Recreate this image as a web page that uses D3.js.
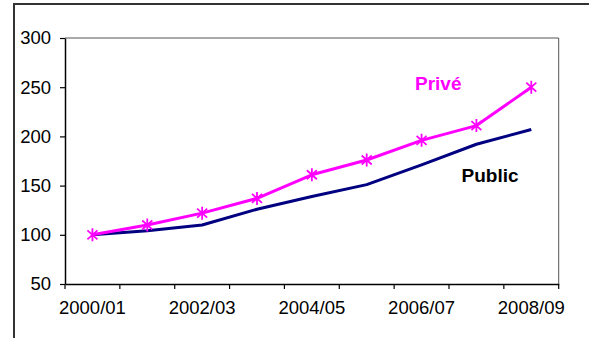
<!DOCTYPE html>
<html>
<head>
<meta charset="utf-8">
<script src="https://cdn.jsdelivr.net/npm/d3@7"></script>
<style>
  html, body { margin: 0; padding: 0; background: #fff; }
  svg { display: block; font-family: "Liberation Sans", Arial, sans-serif; }
</style>
</head>
<body>
<svg id="chart" width="589" height="338"></svg>
<script>
// School years on the horizontal axis
const years = ["2000/01", "2001/02", "2002/03", "2003/04", "2004/05",
               "2005/06", "2006/07", "2007/08", "2008/09"];
// Index values (base 100 in 2000/01)
const prive  = [100, 110, 122, 137, 161, 176, 196, 211, 250];
const publicSeries = [100, 104, 110, 126, 139, 151, 171, 192, 207];
// Left-axis ticks
const yTicks = [50, 100, 150, 200, 250, 300];
// Every other year is labelled
const xLabels = ["2000/01", "2002/03", "2004/05", "2006/07", "2008/09"];

const svg = d3.select("#chart");
const plot = { left: 65, right: 558.7, top: 38, bottom: 284 };

const x = d3.scaleBand().domain(years).range([plot.left, plot.right]).padding(0);
const y = d3.scaleLinear().domain([50, 300]).range([plot.bottom, plot.top]);
const cx = d => x(d) + x.bandwidth() / 2;

// Outer chart frame (extends past the right and bottom edges)
svg.append("path")
  .attr("d", `M14,338 V4 H589`)
  .attr("fill", "none")
  .attr("stroke", "#333")
  .attr("stroke-width", 2);

// Plot-area frame: top and right edges
svg.append("path")
  .attr("d", `M${plot.left},${plot.top} H${plot.right} V${plot.bottom}`)
  .attr("fill", "none")
  .attr("stroke", "#555")
  .attr("stroke-width", 1);

// Y axis
const yAxis = svg.append("g")
  .attr("transform", `translate(${plot.left},0)`)
  .call(d3.axisLeft(y).tickValues(yTicks).tickSize(5).tickPadding(9).tickSizeOuter(0));
yAxis.select(".domain").attr("stroke", "#000").attr("stroke-width", 1.5);
yAxis.selectAll(".tick line").attr("stroke", "#000").attr("stroke-width", 1.2);
yAxis.selectAll("text").attr("font-size", "18.5px").attr("fill", "#000")
  .attr("font-family", "Liberation Sans, Arial, sans-serif");

// X axis: labels at band centres, tick marks at band boundaries
const xAxis = svg.append("g")
  .attr("transform", `translate(0,${plot.bottom})`)
  .call(d3.axisBottom(x).tickValues(xLabels).tickSize(0).tickPadding(17).tickSizeOuter(0));
xAxis.select(".domain").attr("stroke", "#000").attr("stroke-width", 1.5);
xAxis.selectAll("text").attr("font-size", "18.5px").attr("fill", "#000")
  .attr("font-family", "Liberation Sans, Arial, sans-serif");

const boundaries = years.map(d => x(d)).concat([x(years[years.length - 1]) + x.bandwidth()]);
svg.append("g").selectAll("line").data(boundaries).join("line")
  .attr("x1", d => d).attr("x2", d => d)
  .attr("y1", plot.bottom).attr("y2", plot.bottom + 5)
  .attr("stroke", "#000").attr("stroke-width", 1.2);

// Lines
const line = d3.line().x((d, i) => cx(years[i])).y(d => y(d));

svg.append("path")
  .datum(publicSeries)
  .attr("d", line)
  .attr("fill", "none")
  .attr("stroke", "#000080")
  .attr("stroke-width", 3)
  .attr("stroke-linejoin", "round");

svg.append("path")
  .datum(prive)
  .attr("d", line)
  .attr("fill", "none")
  .attr("stroke", "#FF00FF")
  .attr("stroke-width", 3)
  .attr("stroke-linejoin", "round");

// Asterisk markers on the private series
const star = "M0,-6.5V6.5M-5,-4.5L5,4.5M-5,4.5L5,-4.5";
svg.append("g").selectAll("path").data(prive).join("path")
  .attr("transform", (d, i) => `translate(${cx(years[i])},${y(d)})`)
  .attr("d", star)
  .attr("stroke", "#FF00FF")
  .attr("stroke-width", 1.8)
  .attr("fill", "none");

// Series labels
svg.append("text")
  .attr("x", 415).attr("y", 90)
  .attr("font-size", "19px").attr("font-weight", "bold")
  .attr("fill", "#FF00FF")
  .text("Privé");

svg.append("text")
  .attr("x", 461.5).attr("y", 182)
  .attr("font-size", "19px").attr("font-weight", "bold")
  .attr("fill", "#000")
  .text("Public");
</script>
</body>
</html>
